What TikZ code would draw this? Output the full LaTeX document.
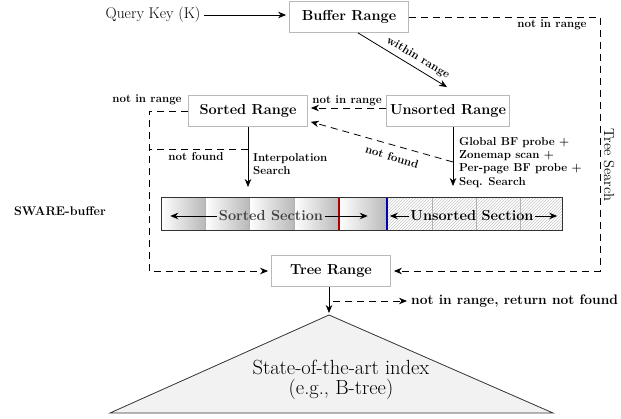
\documentclass[tikz,border=0pt]{standalone}
\usetikzlibrary{arrows.meta,patterns}

\tikzset{
   rangebox/.style={draw=gray!55,fill=white,line width=0.8pt,minimum width=119pt,minimum height=31pt,
      font=\fontsize{14.5}{16}\selectfont\bfseries},
   lbl/.style={font=\fontsize{11.5}{13.3}\selectfont\bfseries,inner sep=1pt},
   flow/.style={-{Stealth[length=8pt,width=6.5pt]},line width=0.8pt,shorten >=3pt},
   miss/.style={flow,dash pattern=on 7pt off 5pt},
   sect/.style={font=\fontsize{14.5}{16}\selectfont\bfseries,inner sep=1.5pt},
   barrow/.style={-{Stealth[length=8pt,width=6.5pt]},line width=0.9pt}
}

\begin{document}
\begin{tikzpicture}[x=1pt,y=-1pt]
   \useasboundingbox (0,0) rectangle (621,419);
   \coordinate (lside) at (149,0);
   \coordinate (rside) at (600,0);

   % boxes
   \node[font=\fontsize{15.5}{17}\selectfont,anchor=east] (query) at (204,15) {Query Key (K)};
   \node[rangebox] (buf) at (349,17) {Buffer Range};
   \node[rangebox] (sorted) at (248,111) {Sorted Range};
   \node[rangebox] (unsorted) at (448,111) {Unsorted Range};
   \node[rangebox] (tree) at (331,271) {Tree Range};

   \draw[flow] (query.east) -- (query.east -| buf.west);
   \draw[flow,shorten >=0pt] ([xshift=9pt]buf.south) -- ([xshift=-1pt,yshift=8pt]unsorted.north);
   \node[lbl,rotate=-31] (within) at (418,58) {within range};
   \draw[miss] (buf.east) -| (rside |- tree) -- (tree.east);
   \node[lbl] (nir1) at (552,25) {not in range};
   \node[font=\fontsize{14.5}{16}\selectfont,rotate=-90] (tsearch) at (609,165) {Tree Search};

   \draw[miss] ([yshift=3pt]unsorted.west) -- ([yshift=3pt]sorted.east)
      node[lbl,midway,above=1pt] (nir2) {not in range};
   \coordinate (unf) at (453,162);
   \draw[miss] (unf) -- ([yshift=-10pt]sorted.east);
   \node[lbl,rotate=-17] (nf1) at (392,157) {not found};

   \draw[miss] (sorted.west) -| (lside |- tree) -- (tree.west);
   \node[lbl] (nir3) at (147,100) {not in range};
   \coordinate (sdown) at (248,187);
   \coordinate (snf) at (248,149);
   \draw[dash pattern=on 7pt off 5pt,line width=0.8pt] (snf) -- (lside |- snf);
   \node[lbl] (nf2) at (196,157) {not found};

   \draw[flow,shorten >=0pt] (sorted.south) -- (sdown);
   \node[lbl,anchor=north west,align=left] (interp) at (252,152) {Interpolation\\Search};
   \coordinate (udown) at (453,186);
   \draw[flow,shorten >=0pt] (udown |- unsorted.south) -- (udown);
   \node[lbl,anchor=north west,align=left] (probe) at (458,136)
      {Global BF probe +\\Zonemap scan +\\Per-page BF probe +\\Seq. Search};

   % buffer
   \node[font=\fontsize{12.5}{14}\selectfont\bfseries] (sware) at (60,211) {SWARE-buffer};
   \foreach \a/\b in {161/205,205/249,249/294,294/339,339/387}
      \shade[left color=white,right color=gray!55] (\a,198) rectangle (\b,231);
   \fill[pattern=north east lines,pattern color=gray!45] (387,198) rectangle (562,231);
   \foreach \x in {205,249,294,432,476,520}
      \draw[gray!60] (\x,198) -- (\x,231);
   \draw[red!70!black,line width=1.6pt] (339,198) -- (339,231);
   \draw[blue!70!black,line width=1.6pt] (387,198) -- (387,231);
   \draw[line width=1pt,black!80] (161,198) rectangle (562,231);
   \node[sect,text=black!75] (ssec) at (271,216) {Sorted Section};
   \draw[barrow] (ssec.west) -- ++(-47,0);
   \draw[barrow] (ssec.east) -- ++(43,0);
   \node[sect] (usec) at (472,216) {Unsorted Section};
   \draw[barrow] (usec.west) -- ++(-19,0);
   \draw[barrow] (usec.east) -- ++(22,0);

   % index
   \coordinate (apex) at (329,315);
   \filldraw[fill=gray!10,draw=black!80,line width=0.8pt] (apex) -- (553,413) -- (110,413) -- cycle;
   \node[font=\fontsize{20.5}{20}\selectfont,align=center] (idx) at (341,380)
      {State-of-the-art index\\(e.g., B-tree)};
   \draw[flow,shorten >=2pt] (apex |- tree.south) -- (apex);
   \node[lbl,font=\fontsize{13.8}{15}\selectfont\bfseries,anchor=west] (ret) at (410,301)
      {not in range, return not found};
   \draw[miss] ([xshift=4pt]ret.west -| apex) -- (ret.west);
\end{tikzpicture}
\end{document}
